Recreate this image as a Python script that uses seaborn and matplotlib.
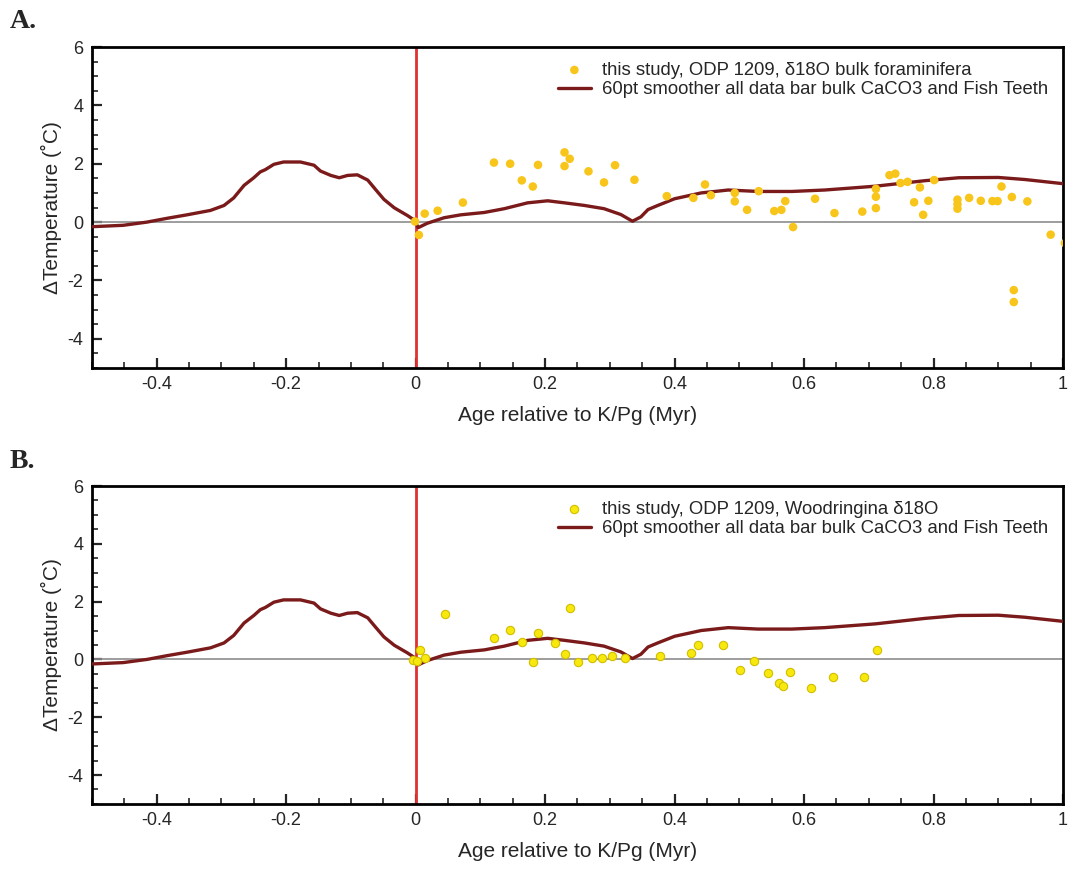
import matplotlib
matplotlib.use("Agg")
import matplotlib.pyplot as plt
import matplotlib.ticker as mticker
import numpy as np
import pandas as pd
import seaborn as sns

# 60pt smoother curve (same in both panels)
smooth_age = [-0.503, -0.452, -0.415, -0.384, -0.353, -0.317, -0.296, -0.281, -0.265, -0.250,
              -0.240, -0.232, -0.219, -0.204, -0.178, -0.157, -0.147, -0.131, -0.118, -0.105,
              -0.090, -0.074, -0.062, -0.049, -0.033, -0.013, -0.002, 0.004, 0.018, 0.044,
              0.070, 0.106, 0.137, 0.173, 0.204, 0.230, 0.261, 0.291, 0.317, 0.335,
              0.348, 0.359, 0.374, 0.400, 0.441, 0.483, 0.529, 0.581, 0.632, 0.710,
              0.787, 0.839, 0.900, 0.941, 1.003]
smooth_temp = [-0.16, -0.11, 0.00, 0.13, 0.25, 0.40, 0.57, 0.83, 1.26, 1.52,
               1.72, 1.80, 1.98, 2.06, 2.06, 1.95, 1.75, 1.60, 1.52, 1.60,
               1.62, 1.44, 1.12, 0.78, 0.49, 0.23, 0.07, -0.19, -0.04, 0.15,
               0.25, 0.33, 0.46, 0.66, 0.73, 0.66, 0.57, 0.46, 0.26, 0.03,
               0.18, 0.43, 0.57, 0.80, 1.00, 1.10, 1.05, 1.05, 1.10, 1.23,
               1.42, 1.52, 1.53, 1.46, 1.31]

# panel A: bulk foraminifera d18O
bulk_age = [-0.001, 0.005, 0.014, 0.034, 0.073, 0.121, 0.146, 0.164, 0.181, 0.189,
            0.230, 0.238, 0.230, 0.267, 0.291, 0.308, 0.338, 0.388, 0.429, 0.447,
            0.456, 0.493, 0.493, 0.512, 0.530, 0.554, 0.565, 0.571, 0.583, 0.617,
            0.647, 0.690, 0.711, 0.711, 0.711, 0.732, 0.741, 0.749, 0.760, 0.770,
            0.779, 0.784, 0.792, 0.801, 0.837, 0.837, 0.837, 0.855, 0.873, 0.891,
            0.899, 0.905, 0.921, 0.924, 0.924, 0.945, 0.981, 1.003]
bulk_temp = [0.02, -0.44, 0.29, 0.39, 0.67, 2.04, 2.00, 1.43, 1.22, 1.96,
             2.39, 2.17, 1.92, 1.74, 1.36, 1.95, 1.45, 0.89, 0.83, 1.29,
             0.92, 1.00, 0.71, 0.42, 1.06, 0.38, 0.42, 0.72, -0.17, 0.80,
             0.31, 0.36, 1.14, 0.87, 0.48, 1.61, 1.66, 1.34, 1.38, 0.68,
             1.19, 0.25, 0.73, 1.44, 0.77, 0.61, 0.46, 0.83, 0.73, 0.72,
             0.72, 1.22, 0.86, -2.33, -2.74, 0.71, -0.43, -0.72]

# panel B: Woodringina d18O
wood_age = [-0.004, 0.002, 0.007, 0.015, 0.045, 0.121, 0.146, 0.164, 0.181, 0.189,
            0.215, 0.230, 0.238, 0.251, 0.273, 0.288, 0.303, 0.323, 0.377, 0.425,
            0.436, 0.475, 0.501, 0.522, 0.544, 0.561, 0.567, 0.579, 0.611, 0.644,
            0.692, 0.713]
wood_temp = [-0.01, -0.07, 0.32, 0.06, 1.58, 0.74, 1.03, 0.60, -0.09, 0.90,
             0.57, 0.20, 1.78, -0.08, 0.06, 0.06, 0.13, 0.05, 0.13, 0.23,
             0.49, 0.51, -0.37, -0.05, -0.48, -0.81, -0.92, -0.44, -0.98, -0.61,
             -0.60, 0.31]

sns.set_style("ticks")
plt.rcParams['font.family'] = ['Liberation Sans', 'DejaVu Sans']

smooth = pd.DataFrame({"age": smooth_age, "temp": smooth_temp})
bulk = pd.DataFrame({"age": bulk_age, "temp": bulk_temp})
wood = pd.DataFrame({"age": wood_age, "temp": wood_temp})

fig = plt.figure(figsize=(10.68, 8.71), dpi=100)
axA = fig.add_axes([0.0861, 0.5775, 0.9092, 0.3685])
axB = fig.add_axes([0.0861, 0.077, 0.9092, 0.365])

panels = [
    (axA, bulk, "this study, ODP 1209, δ18O bulk foraminifera", "#F8C51B", "none", 38, "A.", 0.975),
    (axB, wood, "this study, ODP 1209, Woodringina δ18O", "#F7E80E", "#D2BE00", 36, "B.", 0.47),
]

for ax, pts, lab, fc, ec, size, letter, ly in panels:
    ax.axhline(0, color="#8C8C8C", lw=1.2, zorder=1)
    ax.axvline(0, color="#E03030", lw=2, zorder=2)
    sns.scatterplot(data=pts, x="age", y="temp", ax=ax, color=fc, edgecolor=ec,
                    linewidth=0.8, s=size, label=lab, zorder=4, clip_on=True)
    sns.lineplot(data=smooth, x="age", y="temp", ax=ax, color="#7A1A1A", lw=2.4,
                 label="60pt smoother all data bar bulk CaCO3 and Fish Teeth",
                 sort=False, estimator=None, zorder=3)
    ax.set_xlim(-0.5, 1.0)
    ax.set_ylim(-5, 6)
    ax.xaxis.set_major_locator(mticker.MultipleLocator(0.2))
    ax.xaxis.set_minor_locator(mticker.MultipleLocator(0.05))
    ax.yaxis.set_major_locator(mticker.MultipleLocator(2))
    ax.yaxis.set_minor_locator(mticker.MultipleLocator(0.5))
    ax.xaxis.set_major_formatter(mticker.FuncFormatter(lambda v, p: f"{v:g}"))
    ax.yaxis.set_major_formatter(mticker.FuncFormatter(lambda v, p: f"{v:g}"))
    ax.tick_params(which="major", direction="in", length=7, width=1.6, labelsize=13, pad=6)
    ax.tick_params(which="minor", direction="in", length=4, width=1.2)
    for sp in ax.spines.values():
        sp.set_linewidth(2)
        sp.set_color("black")
    ax.set_xlabel("Age relative to K/Pg (Myr)", fontsize=15, labelpad=9)
    ax.set_ylabel("ΔTemperature (˚C)", fontsize=15, labelpad=4)
    ax.legend(loc="upper right", bbox_to_anchor=(1.0, 1.0), frameon=False,
              fontsize=13.3, handlelength=1.8, handletextpad=0.6,
              labelspacing=0.12, borderaxespad=0.4)
    fig.text(0.009, ly, letter, fontsize=20, fontweight="bold",
             family=["Liberation Serif", "DejaVu Serif"], va="center")

fig.savefig("out.png", dpi=100)
